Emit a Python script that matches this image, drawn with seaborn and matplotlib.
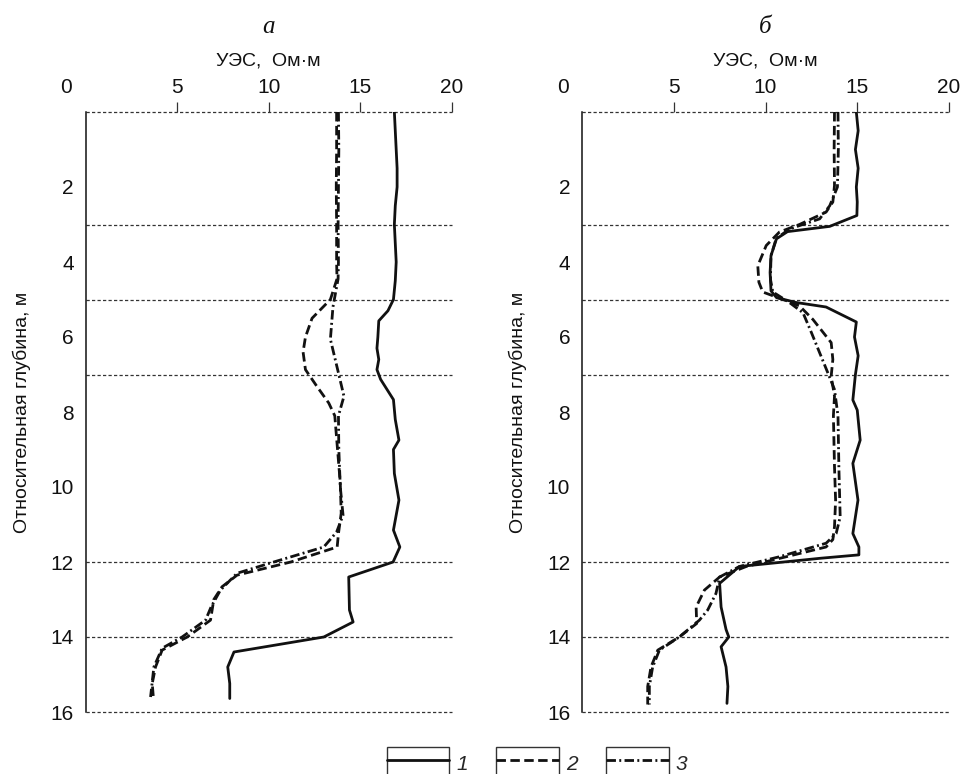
import matplotlib
matplotlib.use("Agg")
import matplotlib.pyplot as plt
from matplotlib.lines import Line2D
from matplotlib.patches import Rectangle
from matplotlib.legend_handler import HandlerLine2D
import seaborn as sns
import pandas as pd

# ---------------- data ----------------
x_ticks = [5, 10, 15, 20]
y_ticks = [2, 4, 6, 8, 10, 12, 14, 16]
layer_bounds = [0, 3, 5, 7, 12, 14, 16]
panel_titles = ["а", "б"]
legend_labels = ["1", "2", "3"]

# panel а
a1_depth = [0, 0.5, 1.0, 1.5, 2.0, 2.5, 3.0, 3.5, 4.0, 4.5, 5.0, 5.3, 5.57, 6.0, 6.3, 6.6,
            6.87, 7.13, 7.4, 7.67, 8.2, 8.75, 9.0, 9.64, 10.35, 11.15, 11.6, 12.0, 12.4,
            13.28, 13.6, 14.0, 14.4, 14.8, 15.24, 15.64]
a1_val = [16.85, 16.9, 16.95, 17.0, 17.0, 16.9, 16.85, 16.9, 16.95, 16.9, 16.8, 16.5, 16.0,
          15.95, 15.9, 16.0, 15.9, 16.1, 16.45, 16.8, 16.9, 17.1, 16.8, 16.85, 17.1, 16.8,
          17.15, 16.78, 14.36, 14.4, 14.6, 13.0, 8.1, 7.76, 7.87, 7.87]

a2_depth = [0, 1, 2, 3, 4, 4.45, 5.0, 5.5, 6.0, 6.4, 6.87, 7.3, 7.76, 8.1, 9.0, 9.9, 10.7,
            11.24, 11.6, 12.0, 12.35, 12.66, 13.0, 13.55, 14.0, 14.35, 14.8, 15.24, 15.6]
a2_val = [13.7, 13.7, 13.68, 13.7, 13.7, 13.72, 13.36, 12.36, 12.0, 11.87, 12.0, 12.6, 13.27,
          13.6, 13.75, 13.9, 13.95, 13.8, 13.73, 11.2, 8.27, 7.45, 7.0, 6.82, 5.55, 4.18,
          3.82, 3.64, 3.7]

a3_depth = [0, 1, 2, 3, 4, 4.45, 5.2, 6.06, 6.96, 7.58, 8.1, 9.0, 10.0, 10.75, 11.2, 11.6,
            12.0, 12.3, 12.75, 13.2, 13.55, 14.0, 14.3, 14.8, 15.6]
a3_val = [13.8, 13.82, 13.8, 13.78, 13.8, 13.78, 13.5, 13.36, 13.8, 14.1, 13.8, 13.82, 13.9,
          14.05, 13.7, 13.0, 10.27, 8.27, 7.36, 6.85, 6.55, 5.27, 4.18, 3.73, 3.55]

# panel б
b1_depth = [0, 0.5, 1.0, 1.5, 2.0, 2.4, 2.76, 3.05, 3.19, 3.38, 3.83, 4.28, 4.77, 4.95, 5.08,
            5.2, 5.6, 6.0, 6.5, 7.0, 7.68, 7.95, 8.75, 9.37, 10.35, 11.24, 11.6, 11.81, 11.9,
            12.12, 12.57, 13.2, 13.8, 14.0, 14.26, 14.8, 15.32, 15.77]
b1_val = [14.95, 15.05, 14.9, 15.05, 14.95, 15.0, 14.98, 13.5, 11.2, 10.6, 10.3, 10.25, 10.3,
          10.6, 11.67, 13.3, 14.95, 14.85, 15.05, 14.9, 14.76, 15.0, 15.16, 14.76, 15.04,
          14.76, 15.09, 15.09, 13.0, 8.58, 7.5, 7.58, 7.85, 8.0, 7.58, 7.85, 7.95, 7.9]

b2_depth = [0, 1, 1.96, 2.4, 2.67, 3.0, 3.2, 3.56, 4.1, 4.54, 4.8, 5.0, 5.17, 5.53, 6.15, 6.6,
            7.04, 7.58, 8.1, 9.46, 10.35, 11.06, 11.4, 11.6, 11.86, 12.12, 12.4, 12.75, 13.2,
            13.64, 14.0, 14.35, 14.8, 15.32, 15.8]
b2_val = [13.76, 13.74, 13.76, 13.67, 13.3, 11.85, 10.76, 10.04, 9.58, 9.64, 9.85, 10.95,
          11.85, 12.58, 13.58, 13.67, 13.58, 13.76, 13.7, 13.76, 13.82, 13.76, 13.67, 13.3,
          11.13, 8.95, 7.5, 6.67, 6.22, 6.25, 5.3, 4.13, 3.76, 3.58, 3.58]

b3_depth = [0, 1, 2.0, 2.5, 2.85, 3.12, 3.38, 3.83, 4.46, 4.8, 5.08, 5.35, 5.88, 6.42, 6.96,
            7.4, 8.1, 9.5, 10.8, 11.24, 11.5, 11.86, 12.12, 12.4, 12.84, 13.28, 13.55, 14.0,
            14.35, 14.8, 15.32, 15.8]
b3_val = [13.95, 13.97, 13.92, 13.5, 12.95, 11.3, 10.58, 10.3, 10.27, 10.4, 11.3, 12.04, 12.5,
          12.95, 13.4, 13.76, 13.95, 14.0, 14.07, 13.85, 13.3, 10.76, 8.58, 7.5, 7.3, 6.85,
          6.4, 5.3, 4.22, 3.85, 3.67, 3.67]

panels = [
    [(a1_depth, a1_val), (a2_depth, a2_val), (a3_depth, a3_val)],
    [(b1_depth, b1_val), (b2_depth, b2_val), (b3_depth, b3_val)],
]

# ---------------- styles ----------------
sns.set_theme(style="white")
plt.rcParams["font.family"] = ["Liberation Sans", "DejaVu Sans"]
plt.rcParams["lines.scale_dashes"] = True

LW = 2.0
line_styles = ["-", (0, (3.4, 1.6)), (0, (3.4, 1.2, 0.7, 1.2))]
ink = "#111111"
grid_ink = "#333333"

fig = plt.figure(figsize=(9.63, 7.74), dpi=100)
W, H = 963, 774
axes_px = [(85.5, 366.6), (582.0, 367.0)]
top_px, bottom_px = 112, 712


def boxed_axes(left, width):
    return fig.add_axes([left / W, 1 - bottom_px / H, width / W, (bottom_px - top_px) / H])


for (left, width), curves, title in zip(axes_px, panels, panel_titles):
    ax = boxed_axes(left, width)
    ax.set_xlim(0, 20)
    ax.set_ylim(16, 0)

    # layer boundaries
    for d in layer_bounds:
        ax.plot([0, 20], [d, d], color=grid_ink, lw=0.9, ls=(0, (2.6, 1.8)),
                clip_on=False, zorder=1)

    for (depth, val), ls in zip(curves, line_styles):
        df = pd.DataFrame({"depth": depth, "val": val})
        sns.lineplot(data=df, x="val", y="depth", sort=False, estimator=None,
                     color=ink, lw=LW, linestyle=ls, ax=ax, zorder=3)

    for side in ("top", "right", "bottom"):
        ax.spines[side].set_visible(False)
    ax.spines["left"].set_color(ink)
    ax.spines["left"].set_linewidth(1.1)

    ax.xaxis.set_ticks_position("top")
    ax.xaxis.set_label_position("top")
    ax.set_xticks(x_ticks)
    ax.set_xticklabels([str(t) for t in x_ticks])
    ax.set_yticks(y_ticks)
    ax.set_yticklabels([str(t) for t in y_ticks])
    ax.tick_params(axis="x", direction="out", length=7.5, width=0.9, color=grid_ink,
                   pad=3.5, labelsize=15, labelcolor=ink)
    ax.tick_params(axis="y", direction="out", length=7, width=0.9, color=grid_ink,
                   pad=1.5, labelsize=15, labelcolor=ink)

    # origin label at the corner
    ax.annotate("0", xy=(0, 0), xycoords="data", xytext=(-19.5, 15),
                textcoords="offset pixels", ha="center", va="bottom",
                fontsize=15, color=ink, annotation_clip=False)

    ax.set_xlabel("УЭС,  Ом·м", fontsize=14, color=ink, labelpad=9)
    ax.set_ylabel("Относительная глубина, м", fontsize=14, color=ink, labelpad=14)
    ax.set_title(title, fontsize=18, style="italic", family="Liberation Serif",
                 color=ink, pad=57)
    ax.set_facecolor("none")


class BoxedLineHandler(HandlerLine2D):
    """Legend key: the line sample inside an open rectangle running off the page."""

    def create_artists(self, legend, orig_handle, xdescent, ydescent, width, height,
                       fontsize, trans):
        artists = super().create_artists(legend, orig_handle, xdescent, ydescent,
                                         width, height, fontsize, trans)
        yc = (height - ydescent) / 2.0
        box = Rectangle((-xdescent, yc - 1.3 * height), width, 1.8 * height, fill=False,
                        edgecolor=grid_ink, lw=1.0, transform=trans, clip_on=False)
        return [box] + list(artists)


handles = [Line2D([], [], color=ink, lw=LW, ls=ls) for ls in line_styles]
fig.legend(handles, legend_labels, loc="center", ncol=3, frameon=False,
           bbox_to_anchor=(537 / W, 1 - 763 / H), bbox_transform=fig.transFigure,
           prop={"style": "italic", "size": 15}, handlelength=3.0, handleheight=1.5,
           handletextpad=0.35, columnspacing=1.36,
           handler_map={Line2D: BoxedLineHandler()})

fig.savefig("out.png", dpi=100)
